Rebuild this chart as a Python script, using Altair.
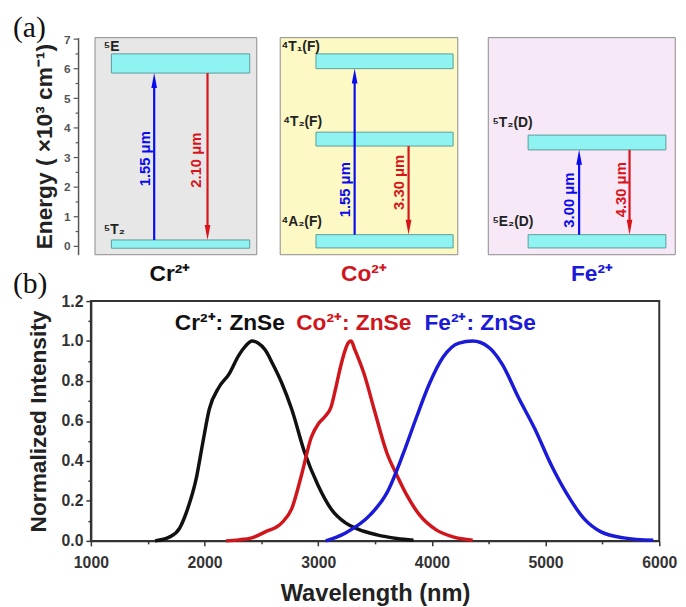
import altair as alt
import pandas as pd

# ---------------- Panel (a): energy level schematic ----------------
ions = ["Cr²⁺", "Co²⁺", "Fe²⁺"]
ion_colors = ["#111111", "#d0161c", "#1a1ad8"]
ion_x = [13.5, 46.6, 85.5]
ion_y = [-0.95, -0.95, -0.95]
box_x0 = [0.7, 32.3, 67.8]
box_x1 = [28.3, 62.6, 99.7]
box_y0 = [-0.3, -0.3, -0.3]
box_y1 = [7.05, 7.05, 7.05]
box_fill = ["#e7e7e7", "#fdf9c4", "#f6e8f6"]

level_names = ["⁵E", "⁵T₂", "⁴T₁(F)", "⁴T₂(F)", "⁴A₂(F)", "⁵T₂(D)", "⁵E₂(D)"]
level_lo = [5.85, -0.08, 6.0, 3.38, -0.07, 3.25, -0.07]
level_hi = [6.5, 0.2, 6.5, 3.85, 0.38, 3.75, 0.38]
level_x0 = [3.5, 3.5, 38.4, 38.4, 38.4, 74.6, 74.6]
level_x1 = [27.1, 27.1, 61.8, 61.8, 61.8, 98.1, 98.1]
level_label_x = [2.2, 2.2, 32.5, 32.8, 32.5, 68.5, 68.5]
level_label_y = [6.72, 0.55, 6.73, 4.2, 0.8, 4.15, 0.8]

trans_x = [10.8, 19.9, 45.0, 54.2, 83.3, 91.9]
trans_from = [0.2, 5.85, 0.38, 3.38, 0.38, 3.25]
trans_to = [5.85, 0.2, 6.0, 0.38, 3.25, 0.38]
trans_label = ["1.55 μm", "2.10 μm", "1.55 μm", "3.30 μm", "3.00 μm", "4.30 μm"]
trans_label_x = [9.3, 18.0, 43.4, 52.5, 81.6, 90.4]
trans_label_y = [2.95, 2.9, 1.9, 2.15, 1.55, 1.9]
trans_kind = ["absorption", "emission", "absorption", "emission", "absorption", "emission"]

panel_tags = ["(a)", "(b)"]
tag_x = [-13.3, -13.3]
tag_y = [7.38, -1.3]

# ---------------- Panel (b): emission spectra ----------------
cr_wl = [1564, 1694, 1781, 1851, 1926, 1984, 2042, 2128, 2215, 2302, 2360, 2418, 2470,
         2534, 2600, 2679, 2766, 2882, 2997, 3113, 3240, 3344, 3517, 3691, 3838]
cr_int = [0.0, 0.02, 0.064, 0.16, 0.31, 0.49, 0.66, 0.77, 0.835, 0.93, 0.975, 1.0, 0.99,
          0.955, 0.885, 0.79, 0.66, 0.44, 0.28, 0.16, 0.09, 0.06, 0.03, 0.012, 0.003]

co_wl = [2189, 2300, 2415, 2534, 2679, 2766, 2853, 2940, 3000, 3056, 3113, 3160, 3200,
         3240, 3270, 3290, 3320, 3404, 3491, 3604, 3691, 3778, 3891, 4038, 4186, 4359]
co_int = [0.0, 0.005, 0.015, 0.045, 0.09, 0.16, 0.33, 0.52, 0.585, 0.62, 0.67, 0.78, 0.88,
          0.96, 0.995, 1.0, 0.96, 0.835, 0.66, 0.44, 0.33, 0.23, 0.13, 0.055, 0.02, 0.003]

fe_wl = [3066, 3240, 3457, 3604, 3750, 3865, 3977, 4099, 4238, 4359, 4498, 4618, 4759,
         4906, 5054, 5193, 5340, 5488, 5688, 5948]
fe_int = [0.0, 0.04, 0.13, 0.24, 0.44, 0.62, 0.785, 0.92, 0.99, 1.0, 0.97, 0.885, 0.72,
          0.56, 0.375, 0.23, 0.11, 0.045, 0.015, 0.003]

series_names = ["Cr²⁺: ZnSe", "Co²⁺: ZnSe", "Fe²⁺: ZnSe"]
series_colors = ["#111111", "#d0161c", "#1a1ad8"]
legend_x = [1738, 2806, 3934]
legend_y = [1.09, 1.09, 1.09]

x_ticks = [1000 + 500 * i for i in range(11)]
y_ticks = [round(0.1 * i, 1) for i in range(13)]
e_ticks = [0.5 * i for i in range(15)]

FONT = "Liberation Sans"

# ---------------- build panel (a) ----------------
xs = alt.Scale(domain=[0, 100], nice=False, zero=False)
ys = alt.Scale(domain=[-0.3, 7.05], nice=False, zero=False)
eaxis = alt.Axis(
    title="Energy ( ×10³ cm⁻¹)", values=e_ticks, offset=13, labelFlush=False,
    labelExpr="datum.value % 1 === 0 ? format(datum.value, 'd') : ''",
    tickSize={"condition": {"test": "datum.value % 1 === 0", "value": 5}, "value": 3},
    labelFont=FONT, labelFontSize=12, labelFontWeight="bold", labelColor="#555",
    labelPadding=3, domainColor="#555", domainWidth=1.5, tickColor="#555", tickWidth=1.2,
    titleFont=FONT, titleFontSize=23, titleFontWeight="bold", titleColor="#222",
    titlePadding=7, grid=False,
)
X = lambda f: alt.X(f, type="quantitative", scale=xs, axis=None)
Y = lambda f: alt.Y(f, type="quantitative", scale=ys, axis=eaxis)

boxes = pd.DataFrame({"ion": ions, "x": box_x0, "x2": box_x1, "y": box_y0, "y2": box_y1, "fill": box_fill})
box_layer = alt.Chart(boxes).mark_rect(stroke="#8a8a8a", strokeWidth=1).encode(
    x=X("x"), x2="x2", y=Y("y"), y2="y2", fill=alt.Fill("fill:N", scale=None))

levels = pd.DataFrame({"name": level_names, "x": level_x0, "x2": level_x1, "y": level_lo, "y2": level_hi,
                       "lx": level_label_x, "ly": level_label_y})
level_layer = alt.Chart(levels).mark_rect(fill="#8ef3f1", stroke="#5c9c9a", strokeWidth=1).encode(
    x=X("x"), x2="x2", y=Y("y"), y2="y2")
level_text = alt.Chart(levels).mark_text(font=FONT, fontSize=14, fontWeight="bold", color="#222",
                                         align="left", baseline="middle").encode(
    x=X("lx"), y=Y("ly"), text="name:N")

tr = pd.DataFrame({"x": trans_x, "y0": trans_from, "y1": trans_to, "label": trans_label,
                   "lx": trans_label_x, "ly": trans_label_y, "kind": trans_kind})
tr["dir"] = (tr["y1"] > tr["y0"]).map({True: 1.0, False: -1.0})
tr["head"] = tr["y1"] - tr["dir"] * 0.25
tr["shaft_end"] = tr["y1"] - tr["dir"] * 0.3
kind_color = alt.Color("kind:N", scale=alt.Scale(domain=["absorption", "emission"],
                                                 range=["#0a0aee", "#d8141a"]), legend=None)
shaft = alt.Chart(tr).mark_rule(strokeWidth=2.2).encode(x=X("x"), y=Y("y0"), y2="shaft_end", color=kind_color)
head_up = alt.Chart(tr).transform_filter("datum.dir > 0").mark_point(
    shape="M-0.38,1L0,-1L0.38,1Z", filled=True, size=230, opacity=1).encode(
    x=X("x"), y=Y("head"), color=kind_color)
head_dn = alt.Chart(tr).transform_filter("datum.dir < 0").mark_point(
    shape="M-0.38,-1L0,1L0.38,-1Z", filled=True, size=230, opacity=1).encode(
    x=X("x"), y=Y("head"), color=kind_color)
tr_text = alt.Chart(tr).mark_text(font=FONT, fontSize=15, fontWeight="bold", angle=270,
                                  align="center", baseline="middle").encode(
    x=X("lx"), y=Y("ly"), text="label:N", color=kind_color)

ion_df = pd.DataFrame({"ion": ions, "x": ion_x, "y": ion_y, "c": ion_colors})
ion_text = alt.Chart(ion_df).mark_text(font=FONT, fontSize=23, fontWeight="bold",
                                       align="center", baseline="middle").encode(
    x=X("x"), y=Y("y"), text="ion:N", color=alt.Color("c:N", scale=None))

tags = pd.DataFrame({"t": panel_tags, "x": tag_x, "y": tag_y})
tag_text = alt.Chart(tags).mark_text(font="Liberation Serif", fontSize=30, color="#111",
                                     align="left", baseline="middle").encode(
    x=X("x"), y=Y("y"), text="t:N")

top = alt.layer(box_layer, level_layer, shaft, head_up, head_dn, level_text, tr_text,
                ion_text, tag_text).properties(
    width=594, height=220, view=alt.ViewBackground(stroke="transparent"))

# ---------------- build panel (b) ----------------
spec = pd.concat([
    pd.DataFrame({"series": series_names[0], "wl": cr_wl, "v": cr_int}),
    pd.DataFrame({"series": series_names[1], "wl": co_wl, "v": co_int}),
    pd.DataFrame({"series": series_names[2], "wl": fe_wl, "v": fe_int}),
])
xb = alt.Scale(domain=[1000, 6000], nice=False, zero=False)
yb = alt.Scale(domain=[0, 1.2], nice=False, zero=False)
common_axis = dict(labelFont=FONT, labelFontSize=16, labelFontWeight="bold", labelColor="#333",
                   labelFlush=False, domainColor="#333", domainWidth=2, tickColor="#333",
                   tickWidth=1.5, titleFont=FONT, titleFontWeight="bold", titleColor="#222",
                   grid=False)
xaxis = alt.Axis(title="Wavelength (nm)", values=x_ticks,
                 labelExpr="datum.value % 1000 === 0 ? format(datum.value, 'd') : ''",
                 tickSize={"condition": {"test": "datum.value % 1000 === 0", "value": 5}, "value": 3},
                 labelPadding=9, titleFontSize=24, titlePadding=11, **common_axis)
yaxis = alt.Axis(title="Normalized Intensity", values=y_ticks,
                 labelExpr="round(datum.value * 10) % 2 === 0 ? format(datum.value, '.1f') : ''",
                 tickSize={"condition": {"test": "round(datum.value * 10) % 2 === 0", "value": 5}, "value": 3},
                 labelPadding=3, titleFontSize=23, titlePadding=11, **common_axis)
series_color = alt.Color("series:N", scale=alt.Scale(domain=series_names, range=series_colors), legend=None)

lines = alt.Chart(spec).mark_line(strokeWidth=3.5, interpolate="monotone").encode(
    x=alt.X("wl:Q", scale=xb, axis=xaxis),
    y=alt.Y("v:Q", scale=yb, axis=yaxis),
    color=series_color, detail="series:N")

leg = pd.DataFrame({"series": series_names, "wl": legend_x, "v": legend_y})
leg_text = alt.Chart(leg).mark_text(font=FONT, fontSize=23, fontWeight="bold", align="left",
                                    baseline="middle").encode(
    x=alt.X("wl:Q", scale=xb, axis=xaxis), y=alt.Y("v:Q", scale=yb, axis=yaxis),
    text="series:N", color=series_color)

bottom = alt.layer(lines, leg_text).properties(
    width=576, height=243, view=alt.ViewBackground(stroke="#333", strokeWidth=2))

chart = alt.vconcat(top, bottom, spacing=47, bounds="flush").resolve_scale(
    color="independent").properties(
    padding={"left": 4, "top": 0, "right": 0, "bottom": 0}, background="white")

chart.save("out.html", embed_options={"renderer": "svg", "actions": False})
